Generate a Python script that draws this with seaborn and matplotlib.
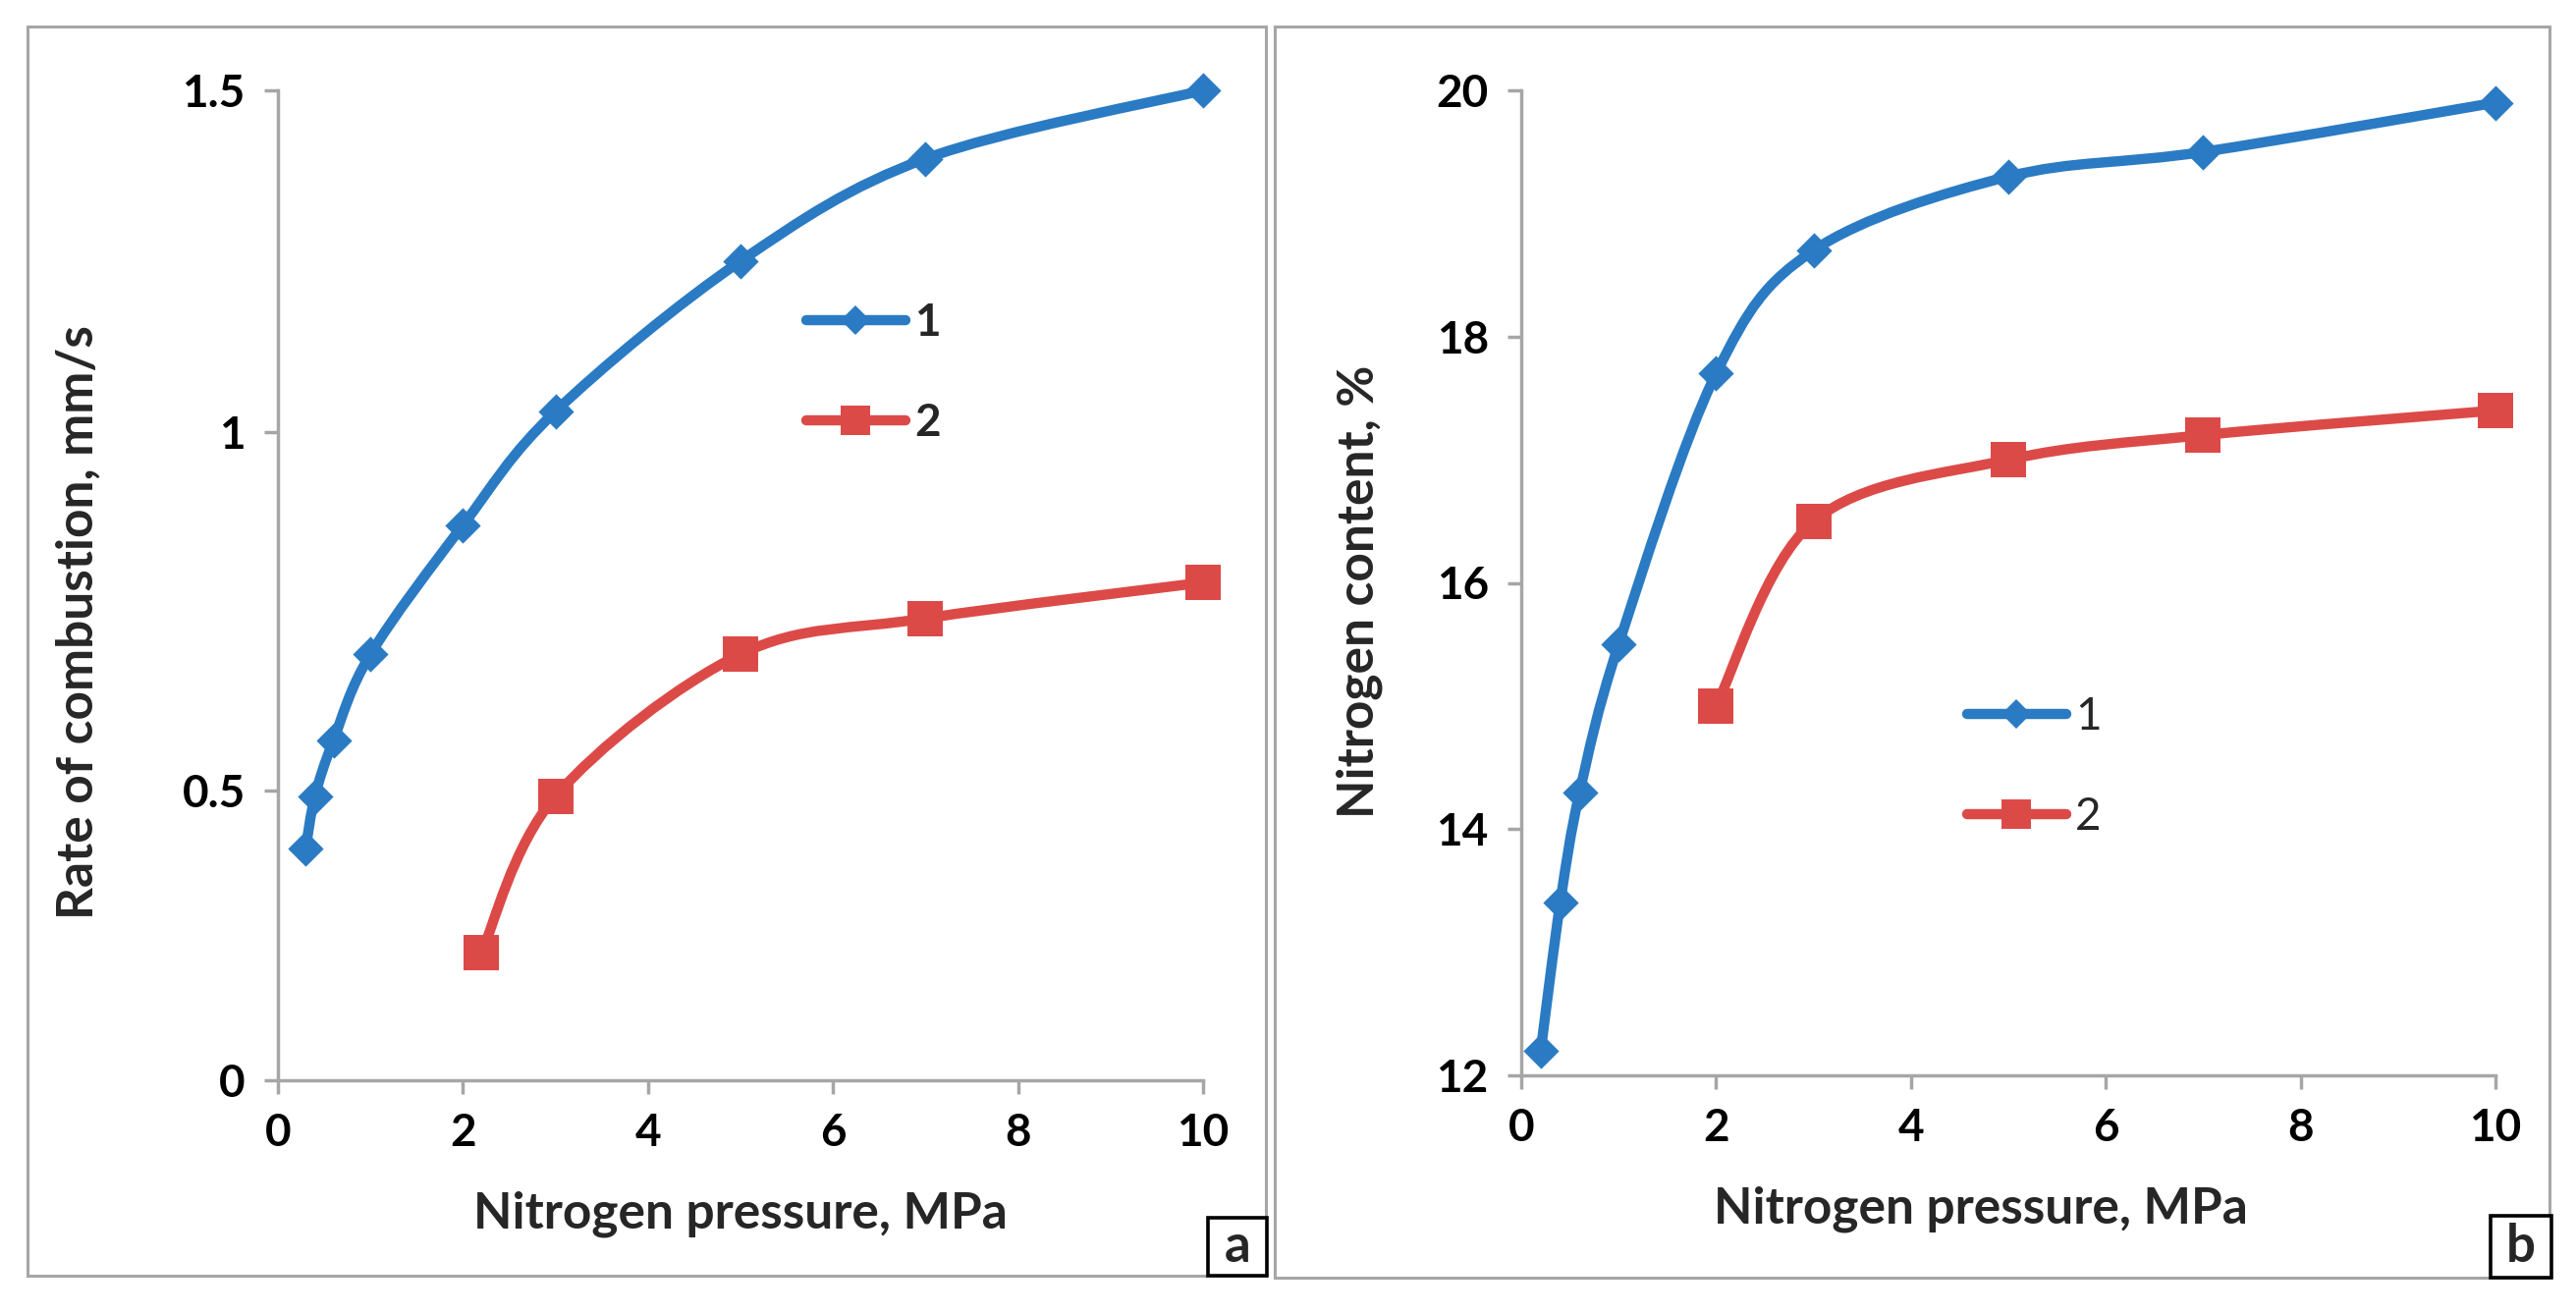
import numpy as np
import seaborn as sns
import matplotlib.pyplot as plt
from matplotlib.path import Path
from matplotlib.patches import PathPatch, Rectangle
from matplotlib.lines import Line2D

# data
pressure_a1 = [0.3, 0.4, 0.6, 1, 2, 3, 5, 7, 10]
rate_a1 = [0.40, 0.49, 0.57, 0.69, 0.87, 1.03, 1.25, 1.40, 1.50]
pressure_a2 = [2.2, 3, 5, 7, 10]
rate_a2 = [0.22, 0.49, 0.69, 0.74, 0.79]

pressure_b1 = [0.2, 0.4, 0.6, 1, 2, 3, 5, 7, 10]
nitrogen_b1 = [12.2, 13.4, 14.3, 15.5, 17.7, 18.7, 19.3, 19.5, 19.9]
pressure_b2 = [2, 3, 5, 7, 10]
nitrogen_b2 = [15.0, 16.5, 17.0, 17.2, 17.4]

x_ticks = [0, 2, 4, 6, 8, 10]
a_yticks = [0, 0.5, 1, 1.5]
a_ylabels = ['0', '0.5', '1', '1.5']
b_yticks = [12, 14, 16, 18, 20]
series_labels = ['1', '2']

BLUE = '#2a7bc3'
RED = '#dc4a48'
GRAY = '#a6a6a6'

sns.set_style('white')
plt.rcParams['font.family'] = ['Lato', 'DejaVu Sans']

W, H = 2623, 1338
fig = plt.figure(figsize=(W / 100, H / 100), dpi=100)


def box(x0, y0, x1, y1):
    return [x0 / W, 1 - y1 / H, (x1 - x0) / W, (y1 - y0) / H]


ax_a = fig.add_axes(box(283, 92, 1225, 1100))
ax_b = fig.add_axes(box(1549, 92, 2541, 1095))

# panel a has unevenly spaced y gridlines in the original
a_tick_frac = [0, 0.2927, 0.655, 1.0]


def fwd(v):
    return np.interp(np.asarray(v, float), a_yticks, a_tick_frac)


def inv(v):
    return np.interp(np.asarray(v, float), a_tick_frac, a_yticks)


ax_a.set_yscale('function', functions=(fwd, inv))
ax_a.set_xlim(0, 10)
ax_a.set_ylim(0, 1.5)
ax_b.set_xlim(0, 10)
ax_b.set_ylim(12, 20)


def smooth_line(ax, x, y, color, lw=7.5):
    # Excel-style smoothed line through the points, built in axes space
    pts = ax.transAxes.inverted().transform(
        ax.transData.transform(np.column_stack([x, y])))
    pos = ax.get_position()
    scale = np.array([pos.width * W, pos.height * H])
    P = pts * scale
    verts = [P[0]]
    codes = [Path.MOVETO]
    n = len(P)
    for i in range(n - 1):
        p0 = P[i - 1] if i > 0 else P[i]
        p3 = P[i + 2] if i + 2 < n else P[i + 1]
        c1 = P[i] + (P[i + 1] - p0) / 6
        c2 = P[i + 1] - (p3 - P[i]) / 6
        verts += [c1, c2, P[i + 1]]
        codes += [Path.CURVE4] * 3
    verts = np.array(verts) / scale
    ax.add_patch(PathPatch(Path(verts, codes), transform=ax.transAxes,
                           fill=False, edgecolor=color, lw=lw,
                           capstyle='round', joinstyle='round',
                           clip_on=False, zorder=2))


def draw_panel(ax, x1, y1, x2, y2):
    smooth_line(ax, x1, y1, BLUE)
    smooth_line(ax, x2, y2, RED)
    sns.scatterplot(x=x1, y=y1, marker='D', s=340, color=BLUE, linewidth=0,
                    ax=ax, clip_on=False, zorder=3)
    sns.scatterplot(x=x2, y=y2, marker='s', s=640, color=RED, linewidth=0,
                    ax=ax, clip_on=False, zorder=3)


draw_panel(ax_a, pressure_a1, rate_a1, pressure_a2, rate_a2)
draw_panel(ax_b, pressure_b1, nitrogen_b1, pressure_b2, nitrogen_b2)

ax_a.set_xticks(x_ticks)
ax_a.set_yticks(a_yticks, a_ylabels)
ax_b.set_xticks(x_ticks)
ax_b.set_yticks(b_yticks)

for ax in (ax_a, ax_b):
    sns.despine(ax=ax)
    for side in ('left', 'bottom'):
        ax.spines[side].set_color(GRAY)
        ax.spines[side].set_linewidth(2.5)
    ax.tick_params(bottom=True, left=True, direction='out', length=10,
                   width=2.5, color=GRAY, labelsize=33, pad=14,
                   labelcolor='black')
    for lbl in ax.get_xticklabels() + ax.get_yticklabels():
        lbl.set_fontweight('bold')
    ax.set_xlabel('Nitrogen pressure, MPa', fontsize=37, fontweight='bold')

ax_a.set_ylabel('Rate of combustion, mm/s', fontsize=37, fontweight='bold')
ax_b.set_ylabel('Nitrogen content, %', fontsize=37, fontweight='bold')
ax_a.xaxis.set_label_coords(0.5, -0.112)
ax_b.xaxis.set_label_coords(0.472, -0.112)
ax_a.yaxis.set_label_coords(-0.191, 0.463)
ax_b.yaxis.set_label_coords(-0.142, 0.4915)


def legend(ax, x, y, bold):
    handles = [
        Line2D([], [], color=BLUE, lw=7.5, marker='D', ms=15, mew=0,
               solid_capstyle='round'),
        Line2D([], [], color=RED, lw=7.5, marker='s', ms=22, mew=0,
               solid_capstyle='round'),
    ]
    leg = ax.legend(handles, series_labels, loc='center left',
                    bbox_to_anchor=(x / W, 1 - y / H),
                    bbox_transform=fig.transFigure, frameon=False,
                    fontsize=33, handlelength=2.2, handletextpad=0.2,
                    labelspacing=1.3, borderpad=0, borderaxespad=0)
    if bold:
        for t in leg.get_texts():
            t.set_fontweight('bold')


legend(ax_a, 821, 380, True)
legend(ax_b, 2003, 781, False)

# gray frames around each panel
for x0, y0, x1, y1 in [(28, 27, 1289, 1299), (1298, 27, 2596, 1301)]:
    fig.add_artist(Rectangle((x0 / W, 1 - y1 / H), (x1 - x0) / W, (y1 - y0) / H,
                             transform=fig.transFigure, fill=False,
                             edgecolor=GRAY, lw=2.2))

# panel letters in black boxes
for letter, x0, y0, x1, y1 in [('a', 1230, 1240, 1290, 1299),
                               ('b', 2536, 1238, 2598, 1301)]:
    fig.add_artist(Rectangle((x0 / W, 1 - y1 / H), (x1 - x0) / W, (y1 - y0) / H,
                             transform=fig.transFigure, facecolor='white',
                             edgecolor='black', lw=2.6, zorder=5))
    fig.text((x0 + x1) / 2 / W, 1 - (y0 + y1) / 2 / H, letter, ha='center',
             va='center', fontsize=38, fontweight='bold', zorder=6)

fig.savefig('out.png', dpi=100)
